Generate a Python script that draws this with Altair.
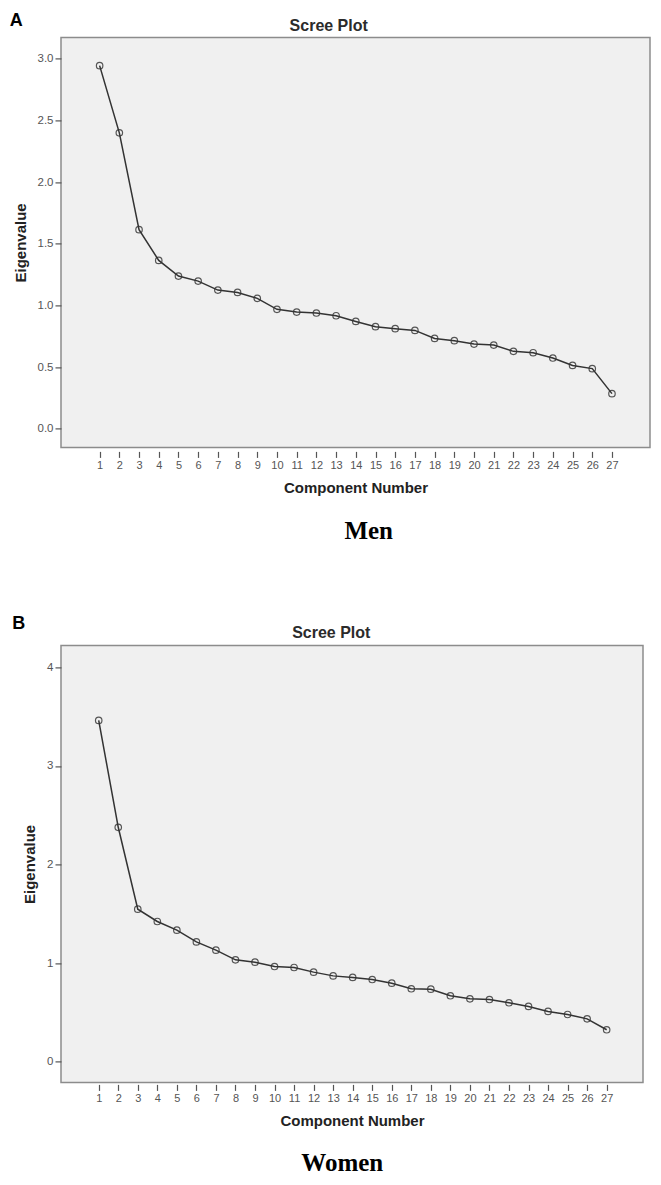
import altair as alt
import pandas as pd

components = list(range(1, 28))
men_eigen = [2.945, 2.40, 1.614, 1.365, 1.238, 1.197, 1.124, 1.105, 1.057, 0.968,
             0.946, 0.938, 0.916, 0.870, 0.827, 0.811, 0.797, 0.732, 0.714, 0.686,
             0.678, 0.627, 0.616, 0.573, 0.513, 0.487, 0.284]
women_eigen = [3.463, 2.378, 1.547, 1.422, 1.334, 1.215, 1.131, 1.033, 1.009, 0.965,
               0.955, 0.908, 0.870, 0.854, 0.833, 0.796, 0.739, 0.735, 0.668, 0.637,
               0.630, 0.597, 0.560, 0.509, 0.478, 0.434, 0.323]
men_yticks = [0.0, 0.5, 1.0, 1.5, 2.0, 2.5, 3.0]
women_yticks = [0, 1, 2, 3, 4]
panel_letters = ["A", "B"]
captions = ["Men", "Women"]
title_text = "Scree Plot"
x_title = "Component Number"
y_title = "Eigenvalue"

SANS = "Liberation Sans"
SERIF = "Liberation Serif"


def text_layer(txt, xy, **kw):
    return alt.Chart(pd.DataFrame({"t": [txt]})).mark_text(**kw).encode(
        text="t:N", x=alt.value(xy[0]), y=alt.value(xy[1]))


def panel(values, ydomain, yticks, yfmt, xdomain, w, h, letter, letter_xy,
          title_xy, caption, caption_xy, x_offset):
    df = pd.DataFrame({"Component": components, "Eigenvalue": values})
    x = alt.X(
        "Component:Q",
        scale=alt.Scale(domain=xdomain, nice=False, zero=False),
        axis=alt.Axis(
            values=components, title=x_title, format="d",
            labelFont=SANS, labelFontSize=11, labelColor="#555",
            tickColor="#555", tickSize=6, tickWidth=1.2,
            domain=False, grid=False, offset=x_offset, labelPadding=2,
            labelFlush=False, labelOverlap=False,
            titleFont=SANS, titleFontSize=15, titleFontWeight="bold",
            titleColor="#222", titlePadding=10,
        ),
    )
    y = alt.Y(
        "Eigenvalue:Q",
        scale=alt.Scale(domain=ydomain, nice=False, zero=False),
        axis=alt.Axis(
            values=yticks, title=y_title, format=yfmt,
            labelFont=SANS, labelFontSize=11.5, labelColor="#555",
            tickColor="#555", tickSize=6, tickWidth=1.2,
            domain=False, grid=False, labelPadding=2,
            labelFlush=False, labelOverlap=False,
            titleFont=SANS, titleFontSize=15, titleFontWeight="bold",
            titleColor="#222", titlePadding=9,
        ),
    )
    base = alt.Chart(df).encode(x=x, y=y)
    pts = base.mark_point(shape="circle", filled=False, size=42, color="#555",
                          strokeWidth=1.2, opacity=1)
    line = base.mark_line(color="#333", strokeWidth=1.5)
    letter_txt = text_layer(letter, letter_xy, font=SANS, fontSize=18,
                            fontWeight="bold", align="left", baseline="top",
                            color="black")
    title_txt = text_layer(title_text, title_xy, font=SANS, fontSize=16,
                           fontWeight="bold", align="center",
                           baseline="alphabetic", color="#2b2b2b")
    cap_txt = text_layer(caption, caption_xy, font=SERIF, fontSize=25,
                         fontWeight="bold", align="center",
                         baseline="alphabetic", color="black")
    return alt.layer(pts, line, letter_txt, title_txt, cap_txt).properties(
        width=w, height=h)


top = panel(men_eigen, [-0.152, 3.174], men_yticks, ".1f", [-0.96, 28.93],
            589, 410, panel_letters[0], (-51.3, -25.6), (267.7, -6),
            captions[0], (307.7, 502), 4)
bottom = panel(women_eigen, [-0.211, 4.224], women_yticks, "d", [-0.93, 28.86],
               582, 437, panel_letters[1], (-48.7, -30), (270.3, -7),
               captions[1], (281.3, 526), 2)

chart = alt.concat(top, bottom, columns=1, spacing=69, align="none").properties(
    padding={"left": 0, "top": 2.4, "right": 0, "bottom": 0},
    background="white",
).configure_view(fill="#f0f0f0", stroke="#8c8c8c", strokeWidth=1.5)

chart.save("out.html", embed_options={"renderer": "svg", "actions": False})
